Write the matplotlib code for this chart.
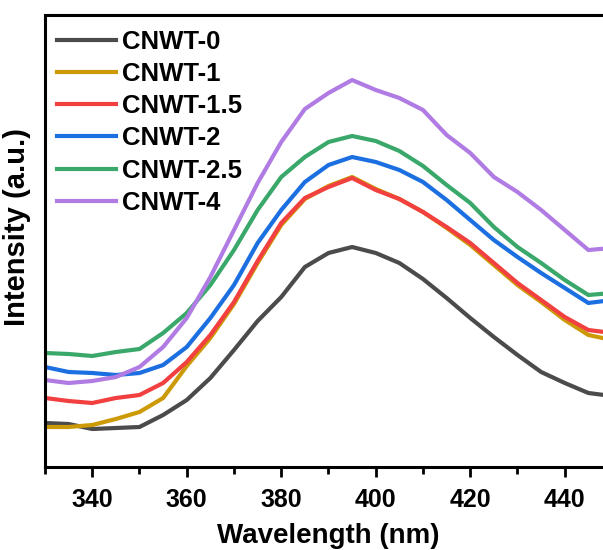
import matplotlib.pyplot as plt

plt.rcParams['font.family'] = ['Liberation Sans', 'DejaVu Sans']
plt.rcParams['font.weight'] = 'bold'

wavelength = list(range(330, 451, 5))

cnwt_0 = [44, 43, 38, 39, 40, 52, 67, 89, 117, 146, 170, 200, 214, 220, 214, 204,
          188, 169, 149, 130, 112, 95, 84, 74, 71]
cnwt_1 = [40, 40, 42, 48, 55, 69, 101, 129, 163, 204, 242, 268, 281, 290, 278, 268,
          255, 239, 222, 202, 182, 165, 147, 132, 127]
cnwt_15 = [69, 66, 64, 69, 72, 84, 105, 132, 165, 206, 244, 269, 280, 289, 277, 268,
           255, 240, 224, 204, 184, 167, 150, 137, 134]
cnwt_2 = [100, 95, 94, 92, 94, 102, 120, 149, 182, 224, 257, 285, 302, 310, 305, 297,
          285, 267, 247, 227, 210, 194, 179, 164, 167]
cnwt_25 = [114, 113, 111, 115, 118, 134, 154, 182, 217, 257, 290, 310, 325, 331, 326, 316,
           301, 282, 264, 240, 220, 204, 187, 172, 174]
cnwt_4 = [87, 84, 86, 90, 100, 120, 149, 190, 237, 284, 325, 358, 374, 387, 377, 369,
          357, 332, 314, 290, 275, 257, 237, 217, 219]

labels = ['CNWT-0', 'CNWT-1', 'CNWT-1.5', 'CNWT-2', 'CNWT-2.5', 'CNWT-4']
colors = ['#4b4b4b', '#cc9a06', '#f23f3f', '#1c6fe0', '#3aa86a', '#b07ce4']
series = [cnwt_0, cnwt_1, cnwt_15, cnwt_2, cnwt_25, cnwt_4]

fig = plt.figure(figsize=(6.03, 5.5), dpi=100)
# the right edge of the original is cropped, so the axes run past the figure
ax = fig.add_axes([45 / 603, 83 / 550, 567 / 603, 452 / 550])

for ys, lab, c in zip(series, labels, colors):
    ax.plot(wavelength, ys, color=c, lw=3, label=lab)

ax.set_xlim(330, 450)
ax.set_ylim(0, 452)
ax.set_xticks(range(340, 441, 20))
ax.set_xticks(range(330, 451, 10), minor=True)
ax.set_yticks([])
ax.tick_params(axis='x', which='major', direction='out', length=7, width=2,
               labelsize=18, pad=8)
ax.tick_params(axis='x', which='minor', direction='out', length=5, width=2)
for lbl in ax.get_xticklabels():
    lbl.set_fontweight('bold')
for s in ax.spines.values():
    s.set_linewidth(2.2)

ax.set_xlabel('Wavelength (nm)', fontsize=20, fontweight='bold', labelpad=8)
ax.set_ylabel('Intensity (a.u.)', fontsize=21, fontweight='bold')
ax.yaxis.set_label_coords(-0.025, 0.53)

ax.legend(loc='upper left', bbox_to_anchor=(-0.011, 1.007), frameon=False,
          prop={'weight': 'bold', 'size': 18.5}, handlelength=2.3,
          handletextpad=0.25, labelspacing=0.32, borderaxespad=0.3)

fig.savefig('out.png', dpi=100)
